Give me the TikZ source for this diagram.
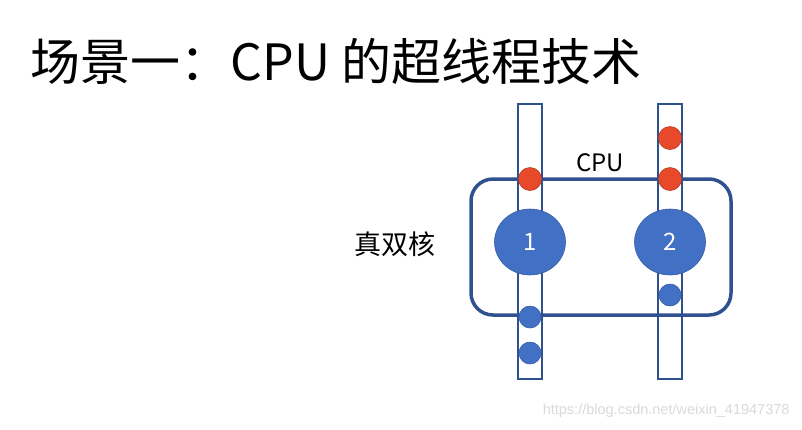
\documentclass[tikz,border=0pt]{standalone}
\usepackage{fontspec}
\setmainfont{Noto Sans CJK SC}
\newfontfamily\markfont{Liberation Sans}
\usetikzlibrary{positioning,shapes.geometric}
\definecolor{coreblue}{HTML}{4270C4}
\definecolor{edgeblue}{HTML}{2F528F}
\definecolor{threadred}{HTML}{E8492A}
\definecolor{markgray}{HTML}{DADADA}

\begin{document}
\begin{tikzpicture}[x=1pt,y=-1pt,
    tube/.style={draw=edgeblue,line width=1.8pt,fill=white},
    cpubox/.style={draw=edgeblue,line width=3.5pt,rounded corners=22pt},
    core/.style={ellipse,fill=coreblue,draw=coreblue!85!black,line width=0.6pt,
      minimum width=71pt,minimum height=66pt,inner sep=0pt,text=white,
      font=\fontsize{24}{24}\selectfont},
    thread/.style={circle,fill=threadred,draw=threadred!80!black,line width=0.6pt,
      minimum size=23pt,inner sep=0pt},
    task/.style={circle,fill=coreblue,draw=coreblue!85!black,line width=0.6pt,
      minimum size=22pt,inner sep=0pt}]
  \useasboundingbox[fill=white] (0,0) rectangle (802,429);

  \node[anchor=west,font=\fontsize{50}{50}\selectfont] (title) at (27,61)
    {场景一：CPU 的超线程技术};

  \draw[tube] (518,104) rectangle (542,379);
  \draw[tube] (658,104) rectangle (682,379);
  \draw[cpubox] (471,179) rectangle (731,315);

  \node[core] (c1) at (530,242) {1};
  \node[core] (c2) at (670,242) {2};

  \node[thread] (t1) at (530,179) {};
  \node[thread] (t2) at (670,179) {};
  \node[thread] (t3) at (670,138) {};

  \node[task] (k1) at (670,295) {};
  \node[task] (k2) at (530,317) {};
  \node[task] (k3) at (530,353) {};

  \node[font=\fontsize{24}{24}\selectfont] (cpu) at (600,163) {CPU};
  \node[font=\fontsize{27}{27}\selectfont] (dual) at (395,244) {真双核};

  \node[anchor=east,text=markgray,font=\markfont\fontsize{14.5}{14.5}\selectfont]
    (mark) at (793,411) {https://blog.csdn.net/weixin\_41947378};
\end{tikzpicture}
\end{document}
